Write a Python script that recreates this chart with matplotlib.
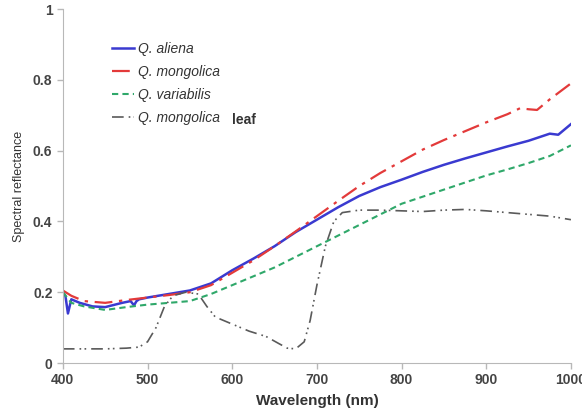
import matplotlib
matplotlib.use("Agg")
import matplotlib.pyplot as plt

plt.rcParams["font.family"] = ["Liberation Sans", "DejaVu Sans"]

# Q. aliena
wl_aliena = [400, 403, 406, 410, 420, 435, 450, 470, 480, 484, 487, 490, 500, 525, 550, 575,
             600, 625, 650, 675, 700, 725, 750, 775, 800, 825, 850, 875, 900, 925, 950,
             965, 975, 985, 1000]
ref_aliena = [0.20, 0.19, 0.14, 0.18, 0.17, 0.16, 0.158, 0.17, 0.175, 0.163, 0.175, 0.18, 0.185,
              0.195, 0.205, 0.225, 0.262, 0.295, 0.33, 0.37, 0.405, 0.44, 0.472, 0.497, 0.518,
              0.54, 0.56, 0.578, 0.595, 0.612, 0.628, 0.64, 0.648, 0.645, 0.675]

# Q. mongolica
wl_mong = [400, 410, 425, 450, 475, 500, 525, 550, 575, 600, 625, 650, 675, 700, 725, 750,
           775, 800, 825, 850, 875, 900, 925, 940, 950, 960, 975, 1000]
ref_mong = [0.205, 0.19, 0.175, 0.17, 0.178, 0.185, 0.192, 0.20, 0.22, 0.255, 0.29, 0.33,
            0.372, 0.415, 0.458, 0.50, 0.537, 0.57, 0.603, 0.63, 0.655, 0.68, 0.703, 0.72,
            0.717, 0.715, 0.745, 0.79]

# Q. variabilis
wl_var = [400, 405, 410, 425, 450, 475, 500, 525, 550, 575, 600, 625, 650, 675, 700, 725,
          750, 775, 800, 825, 850, 875, 900, 925, 950, 975, 1000]
ref_var = [0.20, 0.185, 0.17, 0.16, 0.15, 0.158, 0.165, 0.17, 0.175, 0.195, 0.22, 0.245,
           0.27, 0.30, 0.33, 0.36, 0.39, 0.42, 0.45, 0.47, 0.49, 0.51, 0.53, 0.547, 0.565,
           0.585, 0.615]

# Q. mongolica leaf
wl_leaf = [400, 425, 450, 475, 490, 500, 510, 520, 530, 545, 560, 570, 580, 600, 620, 640,
           655, 665, 675, 685, 692, 700, 710, 720, 730, 750, 775, 800, 825, 850, 875, 900,
           925, 950, 975, 1000]
ref_leaf = [0.04, 0.04, 0.04, 0.042, 0.045, 0.06, 0.10, 0.16, 0.19, 0.20, 0.195, 0.16,
            0.13, 0.11, 0.09, 0.075, 0.055, 0.042, 0.04, 0.06, 0.12, 0.22, 0.33, 0.40,
            0.425, 0.432, 0.432, 0.43, 0.428, 0.432, 0.434, 0.43, 0.425, 0.42, 0.415, 0.405]

fig = plt.figure(figsize=(5.82, 4.13), dpi=100)
ax = fig.add_axes([0.108, 0.121, 0.873, 0.857])

ax.plot(wl_aliena, ref_aliena, color="#3a3ad0", lw=1.8, ls="-", label="Q. aliena")
ax.plot(wl_mong, ref_mong, color="#e33a3a", lw=1.6, dashes=(8, 3, 1.5, 3), label="Q. mongolica")
ax.plot(wl_var, ref_var, color="#2fa86a", lw=1.5, dashes=(3, 2), label="Q. variabilis")
ax.plot(wl_leaf, ref_leaf, color="#5a5a5a", lw=1.2, dashes=(7, 3, 1, 2, 1, 3),
        label="Q. mongolica")

ax.set_xlim(400, 1000)
ax.set_ylim(0, 1)
ax.set_xticks([400, 500, 600, 700, 800, 900, 1000])
ax.set_yticks([0, 0.2, 0.4, 0.6, 0.8, 1])
ax.set_yticklabels(["0", "0.2", "0.4", "0.6", "0.8", "1"])

for s in ["top", "right"]:
    ax.spines[s].set_visible(False)
for s in ["left", "bottom"]:
    ax.spines[s].set_color("#b8b8b8")
ax.tick_params(colors="#b8b8b8", labelcolor="#444444", labelsize=10, length=4, width=1)
for lab in ax.get_xticklabels() + ax.get_yticklabels():
    lab.set_fontweight("bold")

ax.set_xlabel("Wavelength (nm)", fontsize=11, fontweight="bold", color="#333333", labelpad=5)
ax.set_ylabel("Spectral reflectance", fontsize=9, color="#333333", labelpad=6)

leg = ax.legend(loc="upper left", bbox_to_anchor=(0.072, 0.943), frameon=False,
                prop={"style": "italic", "size": 10}, handlelength=1.6,
                handletextpad=0.3, labelspacing=0.66)
for t in leg.get_texts():
    t.set_color("#333333")

# bold "leaf" after the last legend entry
ax.text(0.333, 0.688, "leaf", transform=ax.transAxes, fontsize=10, fontweight="bold",
        color="#333333", va="center", ha="left")

fig.savefig("out.png", dpi=100)
